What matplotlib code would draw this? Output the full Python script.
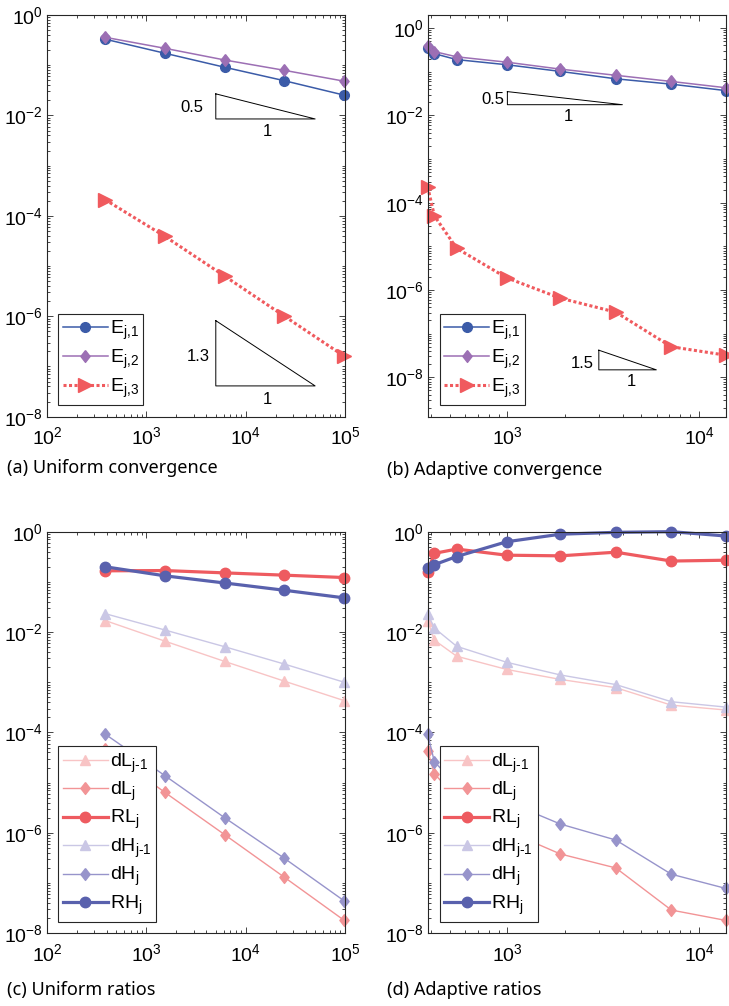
import numpy as np
import matplotlib
matplotlib.use("Agg")
import matplotlib.pyplot as plt
from matplotlib.ticker import LogLocator, NullFormatter

plt.rcParams["font.family"] = ["Liberation Sans", "DejaVu Sans"]
plt.rcParams["mathtext.fontset"] = "custom"
plt.rcParams["mathtext.rm"] = "Liberation Sans"
plt.rcParams["mathtext.it"] = "Liberation Sans:italic"
plt.rcParams["mathtext.bf"] = "Liberation Sans:bold"
plt.rcParams["axes.unicode_minus"] = False

# degrees of freedom per refinement level
n_uniform = [384, 1536, 6144, 24576, 98304]
n_adaptive = [384, 416, 544, 992, 1888, 3680, 7168, 13824]

# error components, uniform refinement
err1_uni = [0.33, 0.173, 0.091, 0.049, 0.0253]
err2_uni = [0.36, 0.217, 0.127, 0.079, 0.048]
err3_uni = [2.1e-4, 3.9e-5, 6.3e-6, 1.0e-6, 1.6e-7]

# error components, adaptive refinement
err1_ada = [0.35, 0.26, 0.19, 0.145, 0.102, 0.069, 0.052, 0.037]
err2_ada = [0.38, 0.29, 0.22, 0.166, 0.115, 0.083, 0.060, 0.043]
err3_ada = [2.3e-4, 5.0e-5, 9.0e-6, 1.9e-6, 6.5e-7, 3.1e-7, 5.0e-8, 3.2e-8]

# increments and ratios, uniform refinement
dl_prev_uni = [0.017, 0.0066, 0.0026, 0.00105, 0.00043]
dl_uni = [4.7e-5, 6.4e-6, 9.2e-7, 1.3e-7, 1.8e-8]
rl_uni = [0.166, 0.168, 0.151, 0.136, 0.122]
dh_prev_uni = [0.0233, 0.011, 0.0051, 0.0023, 0.001]
dh_uni = [9.3e-5, 1.38e-5, 2.0e-6, 3.1e-7, 4.4e-8]
rh_uni = [0.20, 0.132, 0.095, 0.068, 0.048]

# increments and ratios, adaptive refinement
dl_prev_ada = [0.017, 0.0069, 0.0033, 0.0018, 0.00114, 0.00078, 0.00035, 0.00028]
dl_ada = [4.3e-5, 1.5e-5, 5.0e-6, 1.1e-6, 3.8e-7, 2.0e-7, 2.9e-8, 1.8e-8]
rl_ada = [0.16, 0.37, 0.45, 0.34, 0.33, 0.39, 0.26, 0.27]
dh_prev_ada = [0.023, 0.012, 0.0052, 0.0025, 0.0014, 0.0009, 0.00041, 0.00032]
dh_ada = [9.3e-5, 2.6e-5, 9.0e-6, 4.2e-6, 1.5e-6, 7.2e-7, 1.5e-7, 7.8e-8]
rh_ada = [0.193, 0.22, 0.32, 0.63, 0.89, 0.97, 1.0, 0.82]

err_labels = [r"$\mathregular{E_{j{,}1}}$", r"$\mathregular{E_{j{,}2}}$", r"$\mathregular{E_{j{,}3}}$"]
ratio_labels = [r"$\mathregular{dL_{j\text{-}1}}$", r"$\mathregular{dL_j}$", r"$\mathregular{RL_j}$",
                r"$\mathregular{dH_{j\text{-}1}}$", r"$\mathregular{dH_j}$", r"$\mathregular{RH_j}$"]

BLUE = "#3b5ba8"
PURPLE = "#9c6fb4"
RED = "#f05a5e"
RL_COL = "#ee5b60"
RH_COL = "#5961ad"
DL_PREV_COL = "#f8c4c5"
DL_COL = "#f29496"
DH_PREV_COL = "#cac7e5"
DH_COL = "#9794cb"

# MATLAB-like diamond, a bit narrower than tall
DIAMOND = [(0, 1), (0.78, 0), (0, -1), (-0.78, 0), (0, 1)]


def style_axes(ax, xlim, ylim, xticks, yticks):
    ax.set_xscale("log")
    ax.set_yscale("log")
    ax.set_xlim(*xlim)
    ax.set_ylim(*ylim)
    ax.set_xticks(xticks)
    ax.set_yticks(yticks)
    ax.xaxis.set_minor_locator(LogLocator(base=10, subs=np.arange(1, 10), numticks=50))
    ax.yaxis.set_minor_locator(LogLocator(base=10, subs=np.arange(1, 10), numticks=50))
    ax.xaxis.set_minor_formatter(NullFormatter())
    ax.yaxis.set_minor_formatter(NullFormatter())
    ax.tick_params(which="both", direction="in", top=True, right=True,
                   color="#262626", width=0.6)
    ax.tick_params(which="major", length=4.5, labelsize=14, pad=3)
    ax.tick_params(which="minor", length=2.2)
    ax.tick_params(axis="x", pad=7)
    for sp in ax.spines.values():
        sp.set_color("#262626")
        sp.set_linewidth(0.8)


def slope_triangle(ax, x0, y0, decades, slope):
    x1 = x0 * 10 ** decades
    y1 = y0 * 10 ** (slope * decades)
    ax.plot([x0, x0, x1, x0], [y1, y0, y0, y1], color="k", lw=0.7)


def add_legend(ax, anchor, spacing):
    leg = ax.legend(loc="lower left", bbox_to_anchor=anchor, borderaxespad=0,
                    fontsize=14, handlelength=2.3, handletextpad=0.1,
                    labelspacing=spacing, borderpad=0.25, fancybox=False,
                    framealpha=1, edgecolor="#262626")
    leg.get_frame().set_linewidth(0.8)
    return leg


fig = plt.figure(figsize=(7.29, 10.06), dpi=100)

ax_a = fig.add_axes([0.0645, 0.5858, 0.4088, 0.3993])
ax_b = fig.add_axes([0.5867, 0.5858, 0.4092, 0.3993])
ax_c = fig.add_axes([0.0645, 0.0723, 0.4088, 0.3992])
ax_d = fig.add_axes([0.5867, 0.0723, 0.4092, 0.3992])

yt8 = [1e-8, 1e-6, 1e-4, 1e-2, 1e0]
slope_kw = dict(fontsize=12, ha="center", va="center")

# (a) uniform convergence
ax_a.plot(n_uniform, err1_uni, "-o", color=BLUE, lw=1.1, ms=7, label=err_labels[0], clip_on=False)
ax_a.plot(n_uniform, err2_uni, "-", marker=DIAMOND, color=PURPLE, lw=1.1, ms=8.5,
          label=err_labels[1], clip_on=False)
ax_a.plot(n_uniform, err3_uni, ">", ls=(0, (1, 0.8)), color=RED, lw=2.2, ms=9.5,
          label=err_labels[2], clip_on=False)
slope_triangle(ax_a, 5000, 0.0085, 1.0, 0.5)
ax_a.text(2865, 0.0142, "0.5", **slope_kw)
ax_a.text(16600, 0.0047, "1", **slope_kw)
slope_triangle(ax_a, 5000, 4.1e-8, 1.0, 1.3)
ax_a.text(3300, 1.6e-7, "1.3", **slope_kw)
ax_a.text(16600, 2.2e-8, "1", **slope_kw)
style_axes(ax_a, (1e2, 1e5), (1e-8, 1e0), [1e2, 1e3, 1e4, 1e5], yt8)
add_legend(ax_a, (0.037, 0.029), 0.3)

# (b) adaptive convergence
ax_b.plot(n_adaptive, err1_ada, "-o", color=BLUE, lw=1.1, ms=7, label=err_labels[0], clip_on=False)
ax_b.plot(n_adaptive, err2_ada, "-", marker=DIAMOND, color=PURPLE, lw=1.1, ms=8.5,
          label=err_labels[1], clip_on=False)
ax_b.plot(n_adaptive, err3_ada, ">", ls=(0, (1, 0.8)), color=RED, lw=2.2, ms=9.5,
          label=err_labels[2], clip_on=False)
slope_triangle(ax_b, 1000, 0.0176, 0.6, 0.5)
ax_b.text(841, 0.0229, "0.5", **slope_kw)
ax_b.text(2073, 0.0095, "1", **slope_kw)
slope_triangle(ax_b, 3000, 1.48e-8, 0.3, 1.5)
ax_b.text(2455, 2.1e-8, "1.5", **slope_kw)
ax_b.text(4450, 7.9e-9, "1", **slope_kw)
style_axes(ax_b, (n_adaptive[0], n_adaptive[-1]), (1.25e-9, 2.0), [1e3, 1e4], yt8)
add_legend(ax_b, (0.04, 0.029), 0.3)


def plot_ratios(ax, n, dl_prev, dl, rl, dh_prev, dh, rh):
    ax.plot(n, dl_prev, "-^", color=DL_PREV_COL, lw=1.0, ms=7.5, label=ratio_labels[0], clip_on=False)
    ax.plot(n, dl, "-", marker=DIAMOND, color=DL_COL, lw=1.0, ms=8.5, label=ratio_labels[1], clip_on=False)
    ax.plot(n, rl, "-o", color=RL_COL, lw=2.3, ms=7.5, label=ratio_labels[2], clip_on=False)
    ax.plot(n, dh_prev, "-^", color=DH_PREV_COL, lw=1.0, ms=7.5, label=ratio_labels[3], clip_on=False)
    ax.plot(n, dh, "-", marker=DIAMOND, color=DH_COL, lw=1.0, ms=8.5, label=ratio_labels[4], clip_on=False)
    ax.plot(n, rh, "-o", color=RH_COL, lw=2.3, ms=7.5, label=ratio_labels[5], clip_on=False)


# (c) uniform ratios
plot_ratios(ax_c, n_uniform, dl_prev_uni, dl_uni, rl_uni, dh_prev_uni, dh_uni, rh_uni)
style_axes(ax_c, (1e2, 1e5), (1e-8, 1e0), [1e2, 1e3, 1e4, 1e5], yt8)
add_legend(ax_c, (0.037, 0.029), 0.27)

# (d) adaptive ratios
plot_ratios(ax_d, n_adaptive, dl_prev_ada, dl_ada, rl_ada, dh_prev_ada, dh_ada, rh_ada)
style_axes(ax_d, (n_adaptive[0], n_adaptive[-1]), (1e-8, 1e0), [1e3, 1e4], yt8)
add_legend(ax_d, (0.04, 0.029), 0.27)

cap_kw = dict(fontsize=13, family=["Noto Sans", "DejaVu Sans"], va="center", ha="left")
fig.text(0.009, 1 - 468 / 1006, "(a) Uniform convergence", **cap_kw)
fig.text(0.531, 1 - 470 / 1006, "(b) Adaptive convergence", **cap_kw)
fig.text(0.009, 1 - 990 / 1006, "(c) Uniform ratios", **cap_kw)
fig.text(0.531, 1 - 990 / 1006, "(d) Adaptive ratios", **cap_kw)

fig.savefig("out.png", dpi=100)
